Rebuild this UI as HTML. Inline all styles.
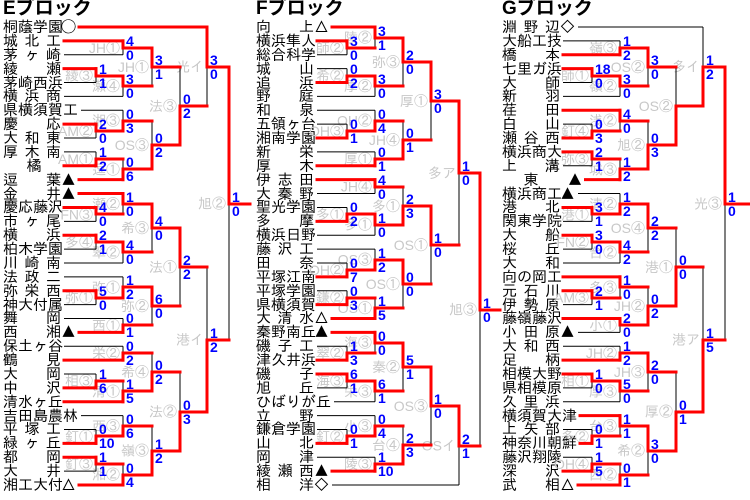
<!DOCTYPE html>
<html><head><meta charset="utf-8">
<style>
html,body{margin:0;padding:0;background:#fff;}
body{width:750px;height:500px;position:relative;overflow:hidden;font-family:"Liberation Sans","IPAGothic","Noto Sans CJK JP",sans-serif;}
.t{position:absolute;top:-1px;font:bold 19px/19px "Liberation Sans","Noto Sans CJK JP",sans-serif;color:#000;}
.blk{position:absolute;top:20px;font-size:15px;line-height:13.88px;color:#000;font-family:"IPAGothic","Noto Sans CJK JP",sans-serif;}
.blk div{height:13.88px;white-space:nowrap;}
.blk b{font-weight:normal;display:inline-block;width:58px;text-align:justify;text-align-last:justify;}
.blk b.w{width:auto;text-align-last:auto;}
.blk b.c{text-align-last:center;}
svg{position:absolute;left:0;top:0;}
</style></head><body>
<div class="t" style="left:3px">Eブロック</div>
<div class="t" style="left:256px">Fブロック</div>
<div class="t" style="left:502px">Gブロック</div>

<div class="blk" id="bE" style="left:3px">
<div><span><b>桐蔭学園</b>◯</span></div>
<div><span><b>城北工</b></span></div>
<div><span><b>茅ヶ崎</b></span></div>
<div><span><b>綾瀬</b></span></div>
<div><span><b>茅崎西浜</b></span></div>
<div><span><b>横浜商</b></span></div>
<div><span><b class="w">県横須賀工</b></span></div>
<div><span><b>慶応</b></span></div>
<div><span><b>大和東</b></span></div>
<div><span><b>厚木南</b></span></div>
<div><span><b style="text-align-last:center;padding-left:4px;width:54px">橘</b></span></div>
<div><span><b>逗葉</b>▲</span></div>
<div><span><b>金井</b>▲</span></div>
<div><span><b>慶応藤沢</b></span></div>
<div><span><b>市ヶ尾</b></span></div>
<div><span><b>横浜</b></span></div>
<div><span><b>柏木学園</b></span></div>
<div><span><b>川崎南</b></span></div>
<div><span><b>法政二</b></span></div>
<div><span><b>弥栄西</b></span></div>
<div><span><b>神大付属</b></span></div>
<div><span><b>舞岡</b></span></div>
<div><span><b>西湘</b>▲</span></div>
<div><span><b>保土ヶ谷</b></span></div>
<div><span><b>鶴見</b></span></div>
<div><span><b>大岡</b></span></div>
<div><span><b>中沢</b></span></div>
<div><span><b>清水ヶ丘</b></span></div>
<div><span><b class="w">吉田島農林</b></span></div>
<div><span><b>平塚工</b></span></div>
<div><span><b>緑ヶ丘</b></span></div>
<div><span><b>都岡</b></span></div>
<div><span><b>大井</b></span></div>
<div><span><b>湘工大付</b>△</span></div>
</div>

<div class="blk" id="bF" style="left:256px">
<div><span><b>向上</b>△</span></div>
<div><span><b>横浜隼人</b></span></div>
<div><span><b>総合科学</b></span></div>
<div><span><b>城山</b></span></div>
<div><span><b>追浜</b></span></div>
<div><span><b>野庭</b></span></div>
<div><span><b>和泉</b></span></div>
<div><span><b>五領ヶ台</b></span></div>
<div><span><b>湘南学園</b></span></div>
<div><span><b>新栄</b></span></div>
<div><span><b>厚木</b></span></div>
<div><span><b>伊志田</b></span></div>
<div><span><b>大秦野</b></span></div>
<div><span><b>聖光学園</b></span></div>
<div><span><b>多摩</b></span></div>
<div><span><b>横浜日野</b></span></div>
<div><span><b>藤沢工</b></span></div>
<div><span><b>田奈</b></span></div>
<div><span><b>平塚江南</b></span></div>
<div><span><b>平塚学園</b></span></div>
<div><span><b>県横須賀</b></span></div>
<div><span><b>大清水</b>△</span></div>
<div><span><b>秦野南丘</b>▲</span></div>
<div><span><b>磯子工</b></span></div>
<div><span><b>津久井浜</b></span></div>
<div><span><b>磯子</b></span></div>
<div><span><b>旭丘</b></span></div>
<div><span><b class="w">ひばりが丘</b></span></div>
<div><span><b>立野</b></span></div>
<div><span><b>鎌倉学園</b></span></div>
<div><span><b>山北</b></span></div>
<div><span><b>岡津</b></span></div>
<div><span><b>綾瀬西</b>▲</span></div>
<div><span><b>相洋</b>◇</span></div>
</div>

<div class="blk" id="bG" style="left:502px">
<div><span><b>淵野辺</b>◇</span></div>
<div><span><b>大船工技</b></span></div>
<div><span><b>橋本</b></span></div>
<div><span><b>七里ガ浜</b></span></div>
<div><span><b>大師</b></span></div>
<div><span><b>新羽</b></span></div>
<div><span><b>荏田</b></span></div>
<div><span><b>白山</b></span></div>
<div><span><b>瀬谷西</b></span></div>
<div><span><b>横浜商大</b></span></div>
<div><span><b>上溝</b></span></div>
<div><span><b class="c">東</b> ▲</span></div>
<div><span><b>横浜商工</b>▲</span></div>
<div><span><b>港北</b></span></div>
<div><span><b>関東学院</b></span></div>
<div><span><b>大船</b></span></div>
<div><span><b>桜丘</b></span></div>
<div><span><b>大和</b></span></div>
<div><span><b>向の岡工</b></span></div>
<div><span><b>元石川</b></span></div>
<div><span><b>伊勢原</b></span></div>
<div><span><b>藤嶺藤沢</b></span></div>
<div><span><b>小田原</b>▲</span></div>
<div><span><b>大和西</b></span></div>
<div><span><b>足柄</b></span></div>
<div><span><b>相模大野</b></span></div>
<div><span><b>県相模原</b></span></div>
<div><span><b>久里浜</b></span></div>
<div><span><b class="w">横須賀大津</b></span></div>
<div><span><b>上矢部</b></span></div>
<div><span><b class="w">神奈川朝鮮</b></span></div>
<div><span><b>藤沢翔陵</b></span></div>
<div><span><b>深沢</b></span></div>
<div><span><b>武相</b>△</span></div>
</div>

<svg id="sv" width="750" height="500" xmlns="http://www.w3.org/2000/svg"></svg>

<script>
function M(l,t,b,st,sb,w,lab){return {l:l,t:t,b:b,st:st,sb:sb,w:w,lab:lab};}
var NS="http://www.w3.org/2000/svg",sv=document.getElementById('sv');
var blacks=[],reds=[],texts=[];
function Y(i){return 27+13.88*i;}
function drawBlock(id,root,xs,outX){
  var rows=document.getElementById(id).querySelectorAll('span');
  function go(n){
    if(typeof n==='number'){
      var r=rows[n].getBoundingClientRect();
      return {y:Y(n),x0:r.right+3,leaf:true};
    }
    var T=go(n.t),B=go(n.b),x=xs[n.l];
    var out=Math.round((T.y+B.y)/2);
    var tr=T.leaf?(n.w==0):true, br=B.leaf?(n.w==1):true;
    (tr?reds:blacks).push([T.x0,T.y,x,T.y]);
    (br?reds:blacks).push([B.x0,B.y,x,B.y]);
    blacks.push([x,T.y,x,B.y]);
    var wy=n.w==0?T.y:B.y;
    reds.push([x,wy,x,out]);
    texts.push(['s',x+3,out-2,n.st]);
    texts.push(['s',x+3,out+12,n.sb]);
    if(n.lab) texts.push(['l',x-3,(T.y+B.y)/2+5,n.lab]);
    return {y:out,x0:x,leaf:false};
  }
  var R=go(root);
  reds.push([R.x0,R.y,outX,R.y]);
}
(function(){
var a=M(1,1,2,'4','0',0,'JH①'),b=M(0,3,4,'1','1',0,'綾③'),c=M(1,b,5,'3','0',0,'瀬④'),
d=M(2,a,c,'3','1',0,'JH①'),f=M(0,7,8,'2','0',0,'AM②'),e=M(1,6,f,'0','3',1,'湘③'),
g=M(0,9,10,'1','2',1,'AM①'),h=M(1,g,11,'0','6',1,'逗①'),i=M(2,e,h,'0','2',1,'OS③'),
j=M(3,d,i,'0','2',1,'法③'),k=M(4,0,j,'3','0',0,'光イ');
var l=M(0,13,14,'4','0',0,'FN③'),m=M(1,12,l,'1','0',0,'瀬②'),o=M(0,15,16,'2','1',0,'多④'),
p=M(1,o,17,'4','0',0,'翠②'),n=M(2,m,p,'4','0',0,'希③'),q=M(0,19,20,'5','0',0,'弥①'),
r=M(1,18,q,'1','2',1,'弥①'),s=M(1,21,22,'0','1',1,'西①'),t=M(2,r,s,'6','0',0,'弥②'),
u=M(3,n,t,'2','2',0,'法①'),v=M(1,23,24,'0','2',1,'栄②'),w=M(0,25,26,'1','6',1,'相③'),
x1=M(1,w,27,'1','5',1,'清①'),y1=M(2,v,x1,'0','2',1,'希④'),z=M(0,29,30,'0','10',1,'釘①'),
aa=M(1,28,z,'0','6',1,'西③'),bb=M(0,31,32,'1','1',0,'釘③'),cc=M(1,bb,33,'0','4',1,'湘②'),
dd=M(2,aa,cc,'1','2',1,'嶺③'),ee=M(3,y1,dd,'0','3',1,'法②'),ff=M(4,u,ee,'1','2',1,'港イ');
drawBlock('bE',M(5,k,ff,'1','0',0,'旭②'),[96,123,152,180,207,229],250);
})();
(function(){
var A=M(0,1,2,'3','0',0,'師②'),B=M(1,0,A,'3','1',0,'陵②'),C=M(0,3,4,'0','2',1,'希②'),
D=M(1,C,5,'3','0',0,'厚②'),E=M(2,B,D,'2','0',0,'弥③'),F1=M(0,7,8,'0','1',1,'OH③'),
G1=M(1,6,F1,'0','4',1,'OH②'),H=M(1,9,10,'0','1',1,'厚①'),I=M(2,G1,H,'0','1',1,'JH④'),
J=M(3,E,I,'3','0',0,'厚①'),K=M(1,11,12,'4','0',0,'JH④'),L=M(0,13,14,'0','2',1,'多①'),
Mm=M(1,L,15,'1','0',0,'多①'),N=M(2,K,Mm,'2','3',1,'多①'),O=M(0,17,18,'0','7',1,'OH②'),
P=M(1,16,O,'1','2',1,'OS③'),Q=M(0,19,20,'0','3',1,'鎌②'),R=M(1,Q,21,'1','5',1,'OS①'),
S=M(2,P,R,'0','0',0,'OS①'),T=M(3,N,S,'1','0',0,'OS①'),U=M(4,J,T,'1','0',0,'多ア');
var V=M(0,23,24,'1','3',1,'翠②'),W=M(1,22,V,'0','0',0,'海③'),X=M(0,25,26,'6','1',0,'海③'),
Yy=M(1,X,27,'6','1',0,'栄③'),Z=M(2,W,Yy,'5','1',0,'秦②'),AA=M(0,29,30,'0','1',1,'釘②'),
AB=M(1,28,AA,'0','4',1,'小③'),AC=M(1,31,32,'1','10',1,'陵③'),AD=M(2,AB,AC,'2','3',1,'台④'),
AE=M(3,Z,AD,'1','0',0,'OS③'),AF=M(4,AE,33,'2','1',0,'OSイ');
drawBlock('bF',M(5,U,AF,'1','0',0,'旭③'),[347,375,403,431,459,480],500);
})();
(function(){
var g1=M(1,1,2,'1','2',1,'嶺③'),g2=M(0,3,4,'18','0',0,'師①'),g3=M(1,g2,5,'3','0',0,'嶺②'),
g4=M(2,g1,g3,'3','0',0,'OS②'),g5=M(0,7,8,'0','3',1,'釘④'),g6=M(1,6,g5,'4','0',0,'浅②'),
g7=M(0,9,10,'2','1',0,'弥③'),g8=M(1,g7,11,'1','2',1,'城③'),g9=M(2,g6,g8,'0','3',1,'旭②'),
g10=M(3,g4,g9,'','',1,'OS②'),g11=M(4,0,g10,'1','2',1,'多イ');
var g12=M(0,13,14,'3','1',0,'港①'),g13=M(1,12,g12,'1','2',1,'清②'),g14=M(0,15,16,'3','0',0,'FN②'),
g15=M(1,g14,17,'4','2',0,'台②'),g16=M(2,g13,g15,'2','2',0,'OS④'),g17=M(0,19,20,'2','1',0,'AM③'),
g18=M(1,18,g17,'1','0',0,'多③'),g19=M(1,21,22,'2','0',0,'小①'),g20=M(2,g18,g19,'0','2',1,'JH②'),
g21=M(3,g16,g20,'0','0',1,'港①'),g22=M(1,23,24,'1','2',1,'JH②'),g23=M(0,25,26,'1','0',0,'相①'),
g24=M(1,g23,27,'5','0',0,'厚③'),g25=M(2,g22,g24,'2','0',0,'JH③'),g26=M(0,29,30,'0','1',1,'多②'),
g27=M(1,28,g26,'1','1',0,'台③'),g28=M(0,31,32,'1','5',1,'OH④'),g29=M(1,g28,33,'0','1',1,'西②'),
g30=M(2,g27,g29,'3','0',0,'希②'),g31=M(3,g25,g30,'0','1',1,'厚②'),g32=M(4,g21,g31,'1','5',1,'港ア');
drawBlock('bG',M(5,g11,g32,'1','0',0,'光③'),[592,620,648,676,703,725],750);
})();
function add(tag,attrs,txt){var e=document.createElementNS(NS,tag);for(var k in attrs)e.setAttribute(k,attrs[k]);if(txt!==undefined)e.textContent=txt;sv.appendChild(e);return e;}
texts.forEach(function(t){ if(t[0]=='l') add('text',{x:t[1],y:t[2],'text-anchor':'end',fill:'#c8c8c8','font-size':'14','font-family':'Liberation Sans, IPAGothic, Noto Sans CJK JP, sans-serif'},t[3]);});
blacks.forEach(function(l){add('line',{x1:l[0],y1:l[1],x2:l[2],y2:l[3],stroke:'#000','stroke-width':1});});
reds.forEach(function(l){add('line',{x1:l[0],y1:l[1],x2:l[2],y2:l[3],stroke:'#ff0000','stroke-width':3,'stroke-linecap':'square'});});
texts.forEach(function(t){ if(t[0]=='s') add('text',{x:t[1],y:t[2],fill:'#0000ff','font-size':'14','font-weight':'bold','font-family':'Liberation Sans Narrow, Liberation Sans, sans-serif'},t[3]);});
</script>
</body></html>
